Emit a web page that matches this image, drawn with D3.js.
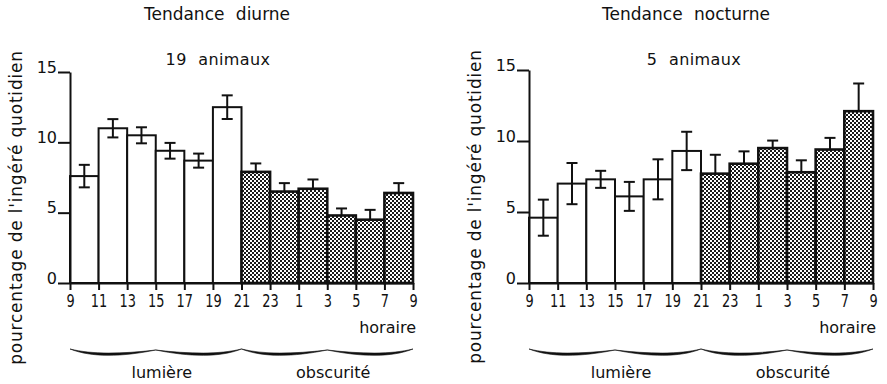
<!DOCTYPE html>
<html>
<head>
<meta charset="utf-8">
<script src="https://cdn.jsdelivr.net/npm/d3@7"></script>
<style>
  body { margin: 0; background: #fff; }
  svg { display: block; }
  text { font-family: "DejaVu Sans", sans-serif; fill: #111; }
</style>
</head>
<body>
<svg id="chart" width="887" height="384"></svg>
<script>
// hour labels under the x axis (one per tick, 13 ticks for 12 bars)
const hours = [9, 11, 13, 15, 17, 19, 21, 23, 1, 3, 5, 7, 9];
// light period for the first 6 bars, dark for the last 6
const phases = ['lumière', 'lumière', 'lumière', 'lumière', 'lumière', 'lumière',
                'obscurité', 'obscurité', 'obscurité', 'obscurité', 'obscurité', 'obscurité'];
const yTicks = [0, 5, 10, 15];

// Tendance diurne, 19 animaux
const diurneMean = [7.6, 11.0, 10.5, 9.4, 8.7, 12.5, 7.9, 6.5, 6.7, 4.8, 4.5, 6.4];
const diurneErr  = [0.8, 0.65, 0.57, 0.56, 0.5, 0.84, 0.6, 0.6, 0.66, 0.5, 0.7, 0.7];

// Tendance nocturne, 5 animaux
const nocturneMean = [4.6, 7.0, 7.3, 6.1, 7.3, 9.3, 7.7, 8.4, 9.5, 7.8, 9.4, 12.1];
const nocturneErr  = [1.27, 1.45, 0.6, 1.02, 1.41, 1.35, 1.33, 0.87, 0.53, 0.84, 0.82, 1.95];

const svg = d3.select('#chart');

// checker fill of the dark-period bars
const defs = svg.append('defs');
const pat = defs.append('pattern')
  .attr('id', 'checker')
  .attr('patternUnits', 'userSpaceOnUse')
  .attr('width', 4).attr('height', 4);
pat.append('rect').attr('width', 4).attr('height', 4).attr('fill', '#fff');
pat.append('rect').attr('width', 2).attr('height', 2).attr('fill', '#1a1a1a');
pat.append('rect').attr('x', 2).attr('y', 2).attr('width', 2).attr('height', 2).attr('fill', '#1a1a1a');

// hand drawn looking curly brace: flicked ends, small cusp in the middle
const brace = (x0, x1, y) => {
  const xm = (x0 + x1) / 2;
  const h = xm - x0;
  const half = (a, s) => {
    const b = xm;
    return `M${a},${y - 4}` +
      `C${a + s * 0.25 * h},${y + 1.5} ${b - s * 0.4 * h},${y + 1} ${b},${y - 3}` +
      `C${b - s * 0.4 * h},${y + 4} ${a + s * 0.25 * h},${y + 4.5} ${a},${y - 4}Z`;
  };
  return half(x0, 1) + half(x1, -1);
};

const drawPanel = options => {
  const x = d3.scaleLinear()
              .domain([0, options.mean.length])
              .range([options.left, options.right]);
  const y = d3.scaleLinear()
              .domain([0, 15])
              .range([options.bottom, options.top]);

  const g = svg.append('g');

  // titles
  g.append('text')
   .attr('x', options.titleX).attr('y', 20)
   .attr('text-anchor', 'middle')
   .style('font-size', '17px')
   .style('word-spacing', '6px')
   .text(options.title);
  g.append('text')
   .attr('x', options.subX).attr('y', 65)
   .attr('text-anchor', 'middle')
   .style('font-size', '16px')
   .style('word-spacing', '6px')
   .style('letter-spacing', '0.4px')
   .text(options.subtitle);

  // y label
  g.append('text')
   .attr('transform', `translate(${options.left - 48},${(options.top + options.bottom) / 2 + 30}) rotate(-90)`)
   .attr('text-anchor', 'middle')
   .style('font-size', '17px')
   .style('letter-spacing', '0.8px')
   .text("pourcentage de l'ingéré quotidien");

  // bars
  const bars = d3.range(options.mean.length).map(i => ({
    i: i, v: options.mean[i], e: options.err[i], dark: phases[i] === 'obscurité'
  }));

  g.selectAll('.bar').data(bars).join('rect')
   .attr('class', 'bar')
   .attr('x', d => x(d.i))
   .attr('y', d => y(d.v))
   .attr('width', d => x(d.i + 1) - x(d.i))
   .attr('height', d => y(0) - y(d.v))
   .attr('fill', d => d.dark ? 'url(#checker)' : '#fff')
   .attr('stroke', '#111')
   .attr('stroke-width', d => d.dark ? 2.6 : 2);

  // error bars (only the upper half shows over the dark bars)
  const mid = d => (x(d.i) + x(d.i + 1)) / 2;
  const eb = g.selectAll('.err').data(bars).join('g').attr('class', 'err')
              .attr('stroke', '#111').attr('stroke-width', 2);
  eb.append('line')
    .attr('x1', mid).attr('x2', mid)
    .attr('y1', d => d.dark ? y(d.v) : y(d.v - d.e))
    .attr('y2', d => y(d.v + d.e));
  eb.append('line')
    .attr('x1', d => mid(d) - 5.5).attr('x2', d => mid(d) + 5.5)
    .attr('y1', d => y(d.v + d.e)).attr('y2', d => y(d.v + d.e));
  eb.filter(d => !d.dark).append('line')
    .attr('x1', d => mid(d) - 5.5).attr('x2', d => mid(d) + 5.5)
    .attr('y1', d => y(d.v - d.e)).attr('y2', d => y(d.v - d.e));

  // x axis
  const xAxis = d3.axisBottom(x)
                  .tickValues(d3.range(hours.length))
                  .tickFormat(i => hours[i])
                  .tickSize(7)
                  .tickSizeOuter(0)
                  .tickPadding(5);
  const gx = g.append('g')
              .attr('transform', `translate(0,${y(0)})`)
              .call(xAxis);
  gx.selectAll('path, line').attr('stroke', '#111').attr('stroke-width', 2);
  gx.selectAll('text')
    .attr('fill', '#111')
    .attr('transform', 'scale(0.76,1)')
    .style('font-family', '"DejaVu Sans", sans-serif')
    .style('font-size', '17px');

  // y axis
  const yAxis = d3.axisLeft(y)
                  .tickValues(yTicks)
                  .tickSize(12)
                  .tickSizeOuter(0)
                  .tickPadding(1);
  const gy = g.append('g')
              .attr('transform', `translate(${x(0)},0)`)
              .call(yAxis);
  gy.selectAll('path, line').attr('stroke', '#111').attr('stroke-width', 2);
  gy.selectAll('text')
    .attr('fill', '#111')
    .attr('dy', '0')
    .style('font-family', '"DejaVu Sans", sans-serif')
    .style('font-size', '16px');

  // "horaire"
  g.append('text')
   .attr('x', x(hours.length - 1) + 3).attr('y', 333)
   .attr('text-anchor', 'end')
   .style('font-size', '16px')
   .text('horaire');

  // braces and period names
  const periods = ['lumière', 'obscurité'];
  const spans = [[0, 6], [6, 12]];
  periods.forEach((p, k) => {
    const x0 = x(spans[k][0]);
    const x1 = x(spans[k][1]);
    g.append('path')
     .attr('d', brace(x0, x1, 353))
     .attr('fill', '#111')
     .attr('stroke', '#111')
     .attr('stroke-width', 0.6);
    g.append('text')
     .attr('x', (x0 + x1) / 2 + 6).attr('y', 378)
     .attr('text-anchor', 'middle')
     .style('font-size', '16px')
     .text(p);
  });
};

drawPanel({
  mean: diurneMean, err: diurneErr,
  left: 70, right: 413, top: 72, bottom: 283,
  title: 'Tendance diurne', titleX: 217,
  subtitle: '19 animaux', subX: 218
});

drawPanel({
  mean: nocturneMean, err: nocturneErr,
  left: 529, right: 873, top: 70, bottom: 283,
  title: 'Tendance nocturne', titleX: 686,
  subtitle: '5 animaux', subX: 694
});
</script>
</body>
</html>
